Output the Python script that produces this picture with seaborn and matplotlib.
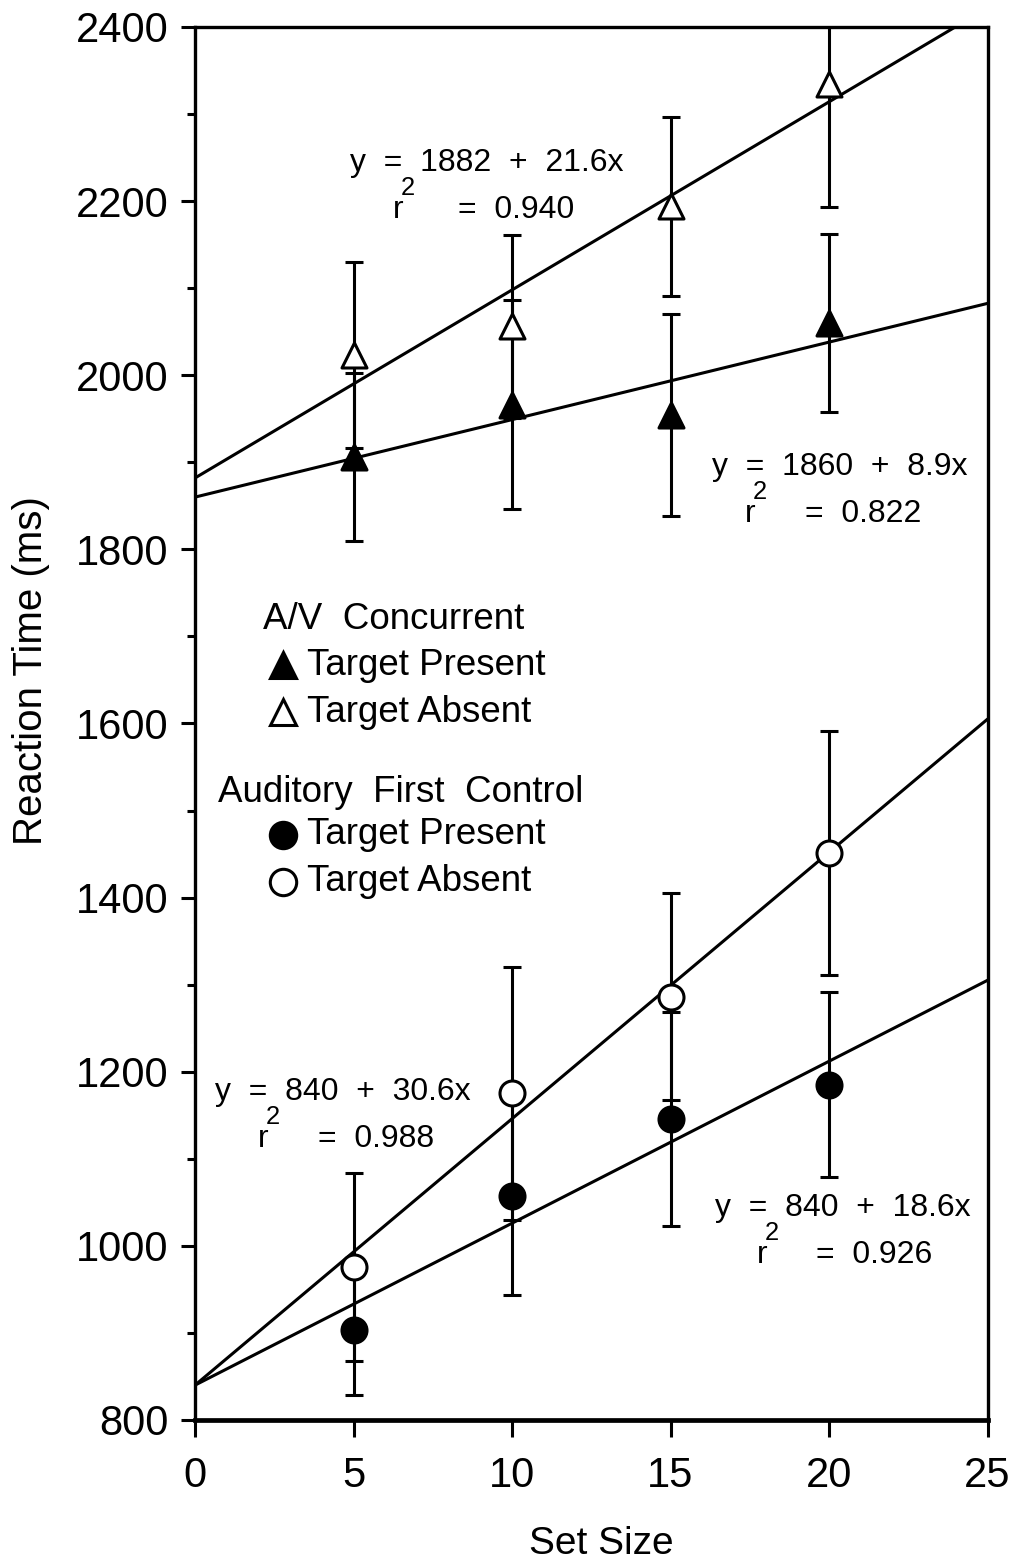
import numpy as np
import pandas as pd
import matplotlib
matplotlib.use("Agg")
import matplotlib.pyplot as plt
from matplotlib.ticker import MultipleLocator
import seaborn as sns

# Mean reaction times (ms) and error-bar half-widths by display set size
set_size = [5, 10, 15, 20]

av_present_rt = [1906, 1966, 1954, 2060]
av_present_err = [97, 120, 116, 102]
av_absent_rt = [2023, 2056, 2194, 2335]
av_absent_err = [107, 105, 103, 142]

afc_present_rt = [903, 1057, 1146, 1185]
afc_present_err = [74, 114, 123, 106]
afc_absent_rt = [976, 1175, 1286, 1451]
afc_absent_err = [108, 145, 119, 140]

# Linear fits: RT = intercept + slope * set size
fit_names = ["av_present", "av_absent", "afc_present", "afc_absent"]
fit_intercepts = [1860, 1882, 840, 840]
fit_slopes = [8.9, 21.6, 18.6, 30.6]
fit_r2 = ["0.822", "0.940", "0.926", "0.988"]

sns.set_style("ticks")
plt.rcParams["font.family"] = ["Liberation Sans", "DejaVu Sans"]
plt.rcParams["text.color"] = "black"
plt.rcParams["axes.labelcolor"] = "black"

fig = plt.figure(figsize=(10.16, 15.59), dpi=100)
ax = fig.add_axes([0.192, 0.0892, 0.780, 0.8935])

LW = 2.2
MS = 18

# regression lines across the full x range
xgrid = np.array([0.0, 25.0])
for name, b0, b1 in zip(fit_names, fit_intercepts, fit_slopes):
    df_fit = pd.DataFrame({"x": xgrid, "y": b0 + b1 * xgrid})
    sns.lineplot(data=df_fit, x="x", y="y", color="black", linewidth=LW,
                 ax=ax, zorder=2)

series = [
    (av_present_rt, av_present_err, "^", "black"),
    (av_absent_rt, av_absent_err, "^", "white"),
    (afc_present_rt, afc_present_err, "o", "black"),
    (afc_absent_rt, afc_absent_err, "o", "white"),
]

for rt, err, mk, fc in series:
    ax.errorbar(set_size, rt, yerr=err, fmt="none", ecolor="black",
                elinewidth=LW, capsize=6.5, capthick=LW, zorder=3)

for rt, err, mk, fc in series:
    df_pts = pd.DataFrame({"x": set_size, "y": rt})
    sns.scatterplot(data=df_pts, x="x", y="y", marker=mk, s=MS ** 2,
                    facecolor=fc, edgecolor="black", linewidth=LW,
                    ax=ax, zorder=5, clip_on=False)

ax.set_xlim(0, 25)
ax.set_ylim(800, 2400)
ax.xaxis.set_major_locator(MultipleLocator(5))
ax.yaxis.set_major_locator(MultipleLocator(200))
ax.yaxis.set_minor_locator(MultipleLocator(100))
ax.tick_params(axis="both", which="major", direction="out", length=10,
               width=LW, labelsize=30, color="black", labelcolor="black")
ax.tick_params(axis="y", which="major", pad=9)
ax.tick_params(axis="x", which="major", pad=14, length=12)
ax.tick_params(axis="y", which="minor", direction="out", length=6, width=LW,
               color="black")
ax.tick_params(top=False, right=False)

for side in ["left", "right", "top"]:
    ax.spines[side].set_linewidth(2.4)
    ax.spines[side].set_color("black")
ax.spines["bottom"].set_linewidth(3.4)
ax.spines["bottom"].set_color("black")

ax.set_xlabel("Set Size", fontsize=28)
ax.xaxis.set_label_coords(0.512, -0.076)
ax.set_ylabel("Reaction Time (ms)", fontsize=29)
ax.yaxis.set_label_coords(-0.183, 0.538)

# fit equations with r-squared
EQ_FS = 23


def equation(x, y, b0, b1, r2, dx_r, dx_eq):
    ax.text(x, y, f"y  =  {b0}  +  {b1}x", fontsize=EQ_FS, ha="left",
            va="center", zorder=6)
    ax.text(x + dx_r, y - 54, "r", fontsize=EQ_FS, ha="left", va="center",
            zorder=6)
    ax.text(x + dx_r + 0.25, y - 29, "2", fontsize=EQ_FS * 0.8, ha="left",
            va="center", zorder=6)
    ax.text(x + dx_eq, y - 54, f"=  {r2}", fontsize=EQ_FS, ha="left",
            va="center", zorder=6)


equation(4.89, 2244, fit_intercepts[1], fit_slopes[1], fit_r2[1], 1.35, 3.4)
equation(16.30, 1895, fit_intercepts[0], fit_slopes[0], fit_r2[0], 1.05, 2.95)
equation(0.63, 1177, fit_intercepts[3], fit_slopes[3], fit_r2[3], 1.36, 3.25)
equation(16.39, 1044, fit_intercepts[2], fit_slopes[2], fit_r2[2], 1.33, 3.2)

# key
KEY_FS = 26.5
ax.text(2.14, 1719, "A/V  Concurrent", fontsize=KEY_FS, ha="left", va="center")
ax.text(0.73, 1521, "Auditory  First  Control", fontsize=KEY_FS, ha="left",
        va="center")
key_rows = [
    (1667, "^", "black", "Target Present"),
    (1613, "^", "white", "Target Absent"),
    (1472, "o", "black", "Target Present"),
    (1418, "o", "white", "Target Absent"),
]
for ky, mk, fc, label in key_rows:
    ax.plot([2.77], [ky], marker=mk, markersize=MS + 1, markerfacecolor=fc,
            markeredgecolor="black", markeredgewidth=LW, linestyle="none",
            zorder=6)
    ax.text(3.53, ky, label, fontsize=KEY_FS, ha="left", va="center")

fig.savefig("out.png", dpi=100, facecolor="white")
